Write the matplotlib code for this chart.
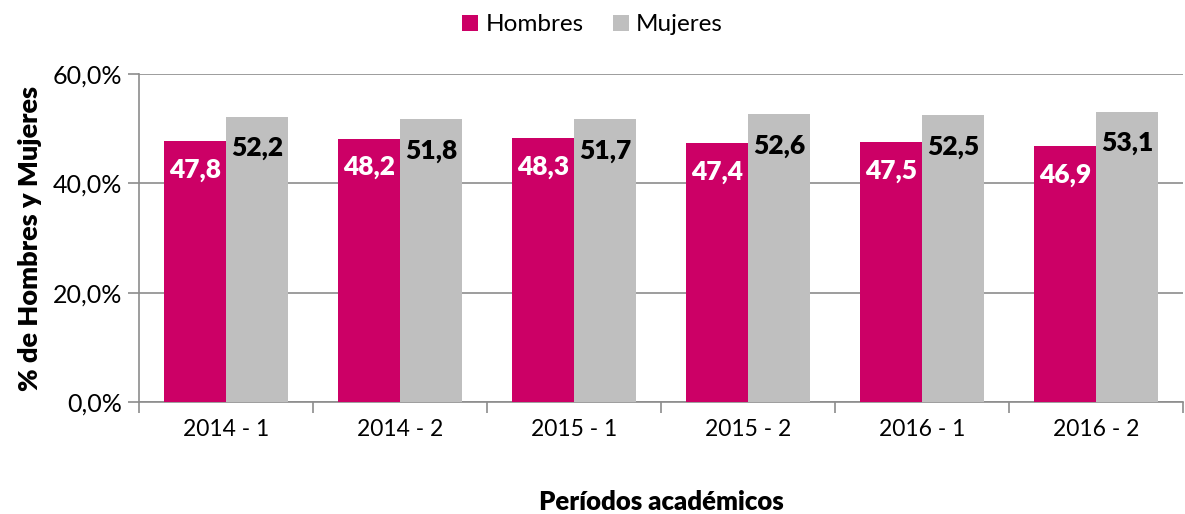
import numpy as np
import matplotlib.pyplot as plt
from matplotlib.ticker import FuncFormatter

plt.rcParams['font.family'] = ['Lato', 'DejaVu Sans']

periodos = ["2014 - 1", "2014 - 2", "2015 - 1", "2015 - 2", "2016 - 1", "2016 - 2"]
hombres = [47.8, 48.2, 48.3, 47.4, 47.5, 46.9]
mujeres = [52.2, 51.8, 51.7, 52.6, 52.5, 53.1]

c_h = "#CC0066"
c_m = "#BFBFBF"
grid_c = "#8C8C8C"

fig = plt.figure(figsize=(11.85, 5.14), dpi=100)
ax = fig.add_axes([0.1173, 0.218, 0.881, 0.638])

x = np.arange(len(periodos))
w = 0.356
bh = ax.bar(x - w / 2, hombres, w, color=c_h, label="Hombres", zorder=3)
bm = ax.bar(x + w / 2, mujeres, w, color=c_m, label="Mujeres", zorder=3)

def fmt(v):
    return ("%.1f" % v).replace(".", ",")

for xi, v in zip(x, hombres):
    ax.text(xi - w / 2, v - 5.3, fmt(v), ha="center", va="center", color="white",
            fontsize=19, fontweight="heavy", zorder=4)
for xi, v in zip(x, mujeres):
    ax.text(xi + w / 2, v - 5.8, fmt(v), ha="center", va="center", color="black",
            fontsize=19, fontweight="heavy", zorder=4)

ax.set_ylim(0, 60)
ax.set_xlim(-0.5, len(periodos) - 0.5)
ax.set_yticks([0, 20, 40, 60])
ax.yaxis.set_major_formatter(FuncFormatter(lambda v, p: ("%.1f%%" % v).replace(".", ",")))
ax.yaxis.grid(True, color=grid_c, linewidth=1.2, zorder=0)

ax.set_xticks(x)
ax.set_xticklabels(periodos)
ax.set_xticks(np.arange(-0.5, len(periodos)), minor=True)
ax.tick_params(axis="x", which="major", length=0, pad=12, labelsize=16.5)
ax.tick_params(axis="x", which="minor", length=8, color=grid_c, width=1.2)
ax.tick_params(axis="y", length=8, color=grid_c, width=1.2, labelsize=18, pad=4)

for s in ["top", "right"]:
    ax.spines[s].set_visible(False)
for s in ["left", "bottom"]:
    ax.spines[s].set_color(grid_c)
    ax.spines[s].set_linewidth(1.2)

ax.set_ylabel("% de Hombres y Mujeres", fontsize=19.5, fontweight="heavy", labelpad=8)
ax.set_xlabel("Períodos académicos", fontsize=18.5, fontweight="heavy", labelpad=36)

fig.legend(handles=[bh, bm], loc="upper center", bbox_to_anchor=(0.5, 1.015), ncol=2,
           frameon=False, fontsize=17.5, handlelength=0.65, handleheight=0.65,
           handletextpad=0.3, columnspacing=1.2)

fig.savefig("out.png", dpi=100)
